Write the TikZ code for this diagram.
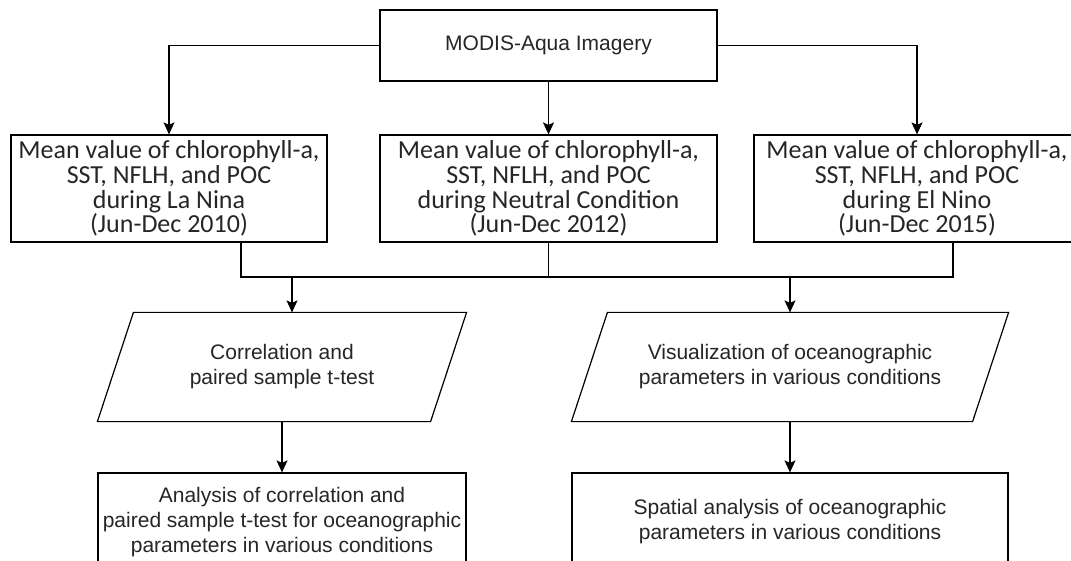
\documentclass[tikz,border=0pt]{standalone}
\usepackage{fontspec}
\setmainfont{Liberation Sans}
\newfontfamily\calib{Carlito}
\usetikzlibrary{arrows.meta}
\definecolor{txt}{RGB}{38,38,38}
\begin{document}
\begin{tikzpicture}[x=1pt,y=-1pt,
  line width=1.2pt,
  cbox/.style={draw=black, inner sep=0pt, minimum height=107pt, align=center, text=txt,
    font=\calib\fontsize{26}{24.7}\selectfont},
  abox/.style={inner sep=0pt, align=center, text=txt,
    font=\fontsize{21}{25}\selectfont},
  arr/.style={-{Stealth[length=12pt,width=11pt,inset=2.5pt]}}]
\fill[white] (0,0) rectangle (1071,561);
\useasboundingbox (0,0) rectangle (1071,561);
\clip (0,0) rectangle (1071,561);

\node[abox, draw=black, minimum width=337pt, minimum height=71pt] (top) at (548.5,45.5) {MODIS-Aqua Imagery};

\node[cbox, minimum width=316pt] (lbox) at (169,188.5) {Mean value of chlorophyll-a,\\SST, NFLH, and POC\\during La Nina\\(Jun-Dec 2010)};
\node[cbox, minimum width=337pt] (mbox) at (548.5,188.5) {Mean value of chlorophyll-a,\\SST, NFLH, and POC\\during Neutral Condition\\(Jun-Dec 2012)};
\node[cbox, minimum width=326pt] (rbox) at (917,188.5) {Mean value of chlorophyll-a,\\SST, NFLH, and POC\\during El Nino\\(Jun-Dec 2015)};

\draw[arr] (top.west) -| (lbox.north);
\draw[arr] (top.south) -- (mbox.north);
\draw[arr] (top.east) -| (rbox.north);

\coordinate (hL) at (241,277);
\coordinate (hR) at (953,277);
\coordinate (jL) at (292,277);
\coordinate (jR) at (790,277);
\draw (lbox.south -| hL) -- (hL) -- (hR) -- (rbox.south -| hR);
\draw (mbox.south) -- (mbox.south |- hL);

% parallelograms
\node[abox, minimum width=368pt, minimum height=108pt] (corr) at (282,367) {Correlation and\\paired sample t-test};
\draw (corr.south west) -- ([xshift=-36pt]corr.south east) -- (corr.north east) -- ([xshift=36pt]corr.north west) -- cycle;
\node[abox, minimum width=436pt, minimum height=108pt] (vis) at (790,367) {Visualization of oceanographic\\parameters in various conditions};
\draw (vis.south west) -- ([xshift=-36pt]vis.south east) -- (vis.north east) -- ([xshift=36pt]vis.north west) -- cycle;

\draw[arr] (jL) -- (jL |- corr.north);
\draw[arr] (jR) -- (jR |- vis.north);

\node[abox, draw=black, minimum width=368pt, minimum height=98pt] (anl) at (282,522) {Analysis of correlation and\\paired sample t-test for oceanographic\\parameters in various conditions};
\node[abox, draw=black, minimum width=436pt, minimum height=98pt] (spa) at (790,522) {Spatial analysis of oceanographic\\parameters in various conditions};

\draw[arr] (corr.south) -- (anl.north);
\draw[arr] (vis.south) -- (spa.north);
\end{tikzpicture}
\end{document}
